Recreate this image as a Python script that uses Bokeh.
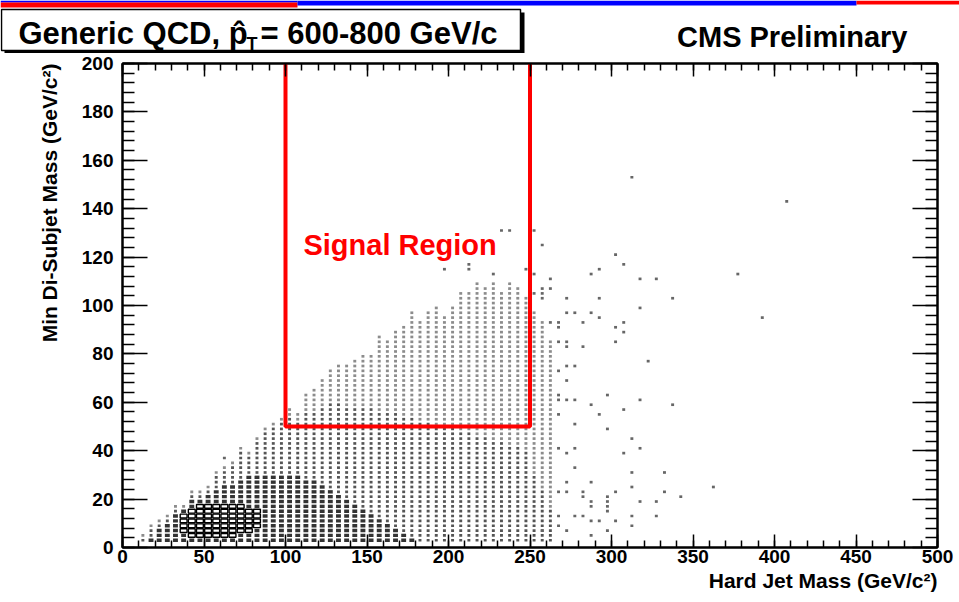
import math
from bokeh.plotting import figure
from bokeh.models import Range1d, LinearAxis, FixedTicker, Title
from bokeh.layouts import column, row
from bokeh.embed import file_html
from bokeh.resources import INLINE
from bokeh.core.properties import value

# ---------------- data ----------------
# 2D histogram: x bins 5 GeV (centres), y bins 2 GeV
col_x = [12.5 + 5 * i for i in range(51)]  # 12.5 ... 262.5 bin centres
# top of occupied cells per column (GeV)
col_top = [6, 10, 12, 14, 18, 18, 24, 24, 26, 32, 34, 36, 42, 40, 46, 50, 52, 54, 58, 56,
           64, 66, 70, 74, 76, 76, 78, 80, 80, 88, 86, 90, 92, 98, 94, 98, 100, 96, 100, 106,
           106, 110, 108, 110, 106, 110, 108, 104, 98, 94, 86]
# top of the densely filled part per column
col_full = [4, 8, 10, 12, 16, 16, 22, 22, 24, 30, 32, 34, 40, 38, 44, 48, 50, 52,
            54, 52, 56, 56, 58, 60, 60, 58, 58, 58, 58, 56, 56, 56, 54, 54, 52, 52, 50, 50,
            50, 48, 48, 46, 46, 44, 44, 42, 42, 40, 30, 24, 16]
# top of the well-populated (larger boxes) part per column
col_mid = [0, 4, 8, 10, 14, 16, 20, 20, 22, 24, 26, 26, 28, 30, 30, 30, 30, 30, 30, 30,
           28, 28, 26, 24, 22, 20, 18, 16, 14, 12, 10, 8, 6, 4,
           0, 0, 0, 0, 0, 0, 0, 0, 0, 0, 0, 0, 0, 0, 0, 0, 0]
# most populated core of the distribution
core_x = [37.5, 42.5, 47.5, 52.5, 57.5, 62.5, 67.5, 72.5, 77.5, 82.5]
core_lo = [7, 5, 5, 5, 5, 5, 5, 7, 7, 9]
core_hi = [13, 15, 17, 17, 17, 17, 17, 17, 15, 15]
# isolated entries
out_x = [62.5, 197.5, 212.5, 212.5, 227.5, 232.5, 237.5, 247.5, 252.5, 252.5, 252.5,
         257.5, 257.5, 257.5, 257.5, 262.5, 262.5, 262.5,
         267.5, 267.5, 267.5, 267.5, 267.5, 267.5, 267.5, 267.5, 267.5, 267.5, 267.5,
         272.5, 272.5, 272.5, 272.5, 272.5, 272.5, 272.5, 272.5, 272.5, 272.5,
         277.5, 277.5, 277.5, 277.5, 277.5, 277.5, 277.5,
         282.5, 282.5, 282.5, 282.5, 282.5,
         287.5, 287.5, 287.5, 287.5, 287.5, 287.5, 287.5,
         292.5, 292.5, 292.5, 292.5, 292.5,
         297.5, 297.5, 297.5, 297.5, 297.5, 297.5,
         302.5, 302.5, 302.5, 302.5, 302.5,
         307.5, 307.5, 307.5, 307.5, 307.5,
         312.5, 312.5, 312.5, 312.5, 312.5, 312.5,
         317.5, 317.5, 317.5, 317.5, 317.5,
         322.5, 327.5, 327.5, 327.5, 332.5, 332.5, 337.5, 337.5, 342.5,
         362.5, 377.5, 392.5, 407.5, 257.5, 272.5, 287.5, 297.5]
out_y = [37, 115, 117, 115, 113, 131, 131, 115, 131, 113, 105,
         125, 107, 105, 103, 111, 107, 93,
         93, 91, 85, 73, 63, 61, 55, 41, 23, 13, 9,
         103, 97, 85, 83, 75, 69, 61, 39, 27, 23,
         97, 75, 61, 51, 41, 33, 13,
         93, 83, 23, 21, 13,
         113, 97, 59, 27, 19, 17, 11,
         115, 103, 95, 55, 11,
         63, 49, 21, 19, 17, 15,
         121, 91, 85, 23, 11,
         117, 93, 89, 57, 39,
         153, 45, 31, 25, 13, 9,
         111, 99, 61, 41, 19,
         77, 111, 19, 13, 31, 23, 103, 59, 21,
         25, 113, 95, 143, 7, 7, 5, 7]

# signal region
sig_x = [100, 250]
sig_y_min = 50
sig_y_max = 200

x_ticks = [0, 50, 100, 150, 200, 250, 300, 350, 400, 450, 500]
y_ticks = [0, 20, 40, 60, 80, 100, 120, 140, 160, 180, 200]

# ---------------- cells ----------------
cells = {"core": ([], []), "mid": ([], []), "fill": ([], []), "sparse": ([], [])}
core_map = {cx: (lo, hi) for cx, lo, hi in zip(core_x, core_lo, core_hi)}
for i, cx in enumerate(col_x):
    y = 3
    while y <= col_top[i]:
        if cx in core_map and core_map[cx][0] <= y <= core_map[cx][1]:
            cat = "core"
        elif y <= col_mid[i]:
            cat = "mid"
        elif y <= col_full[i]:
            cat = "fill"
        else:
            cat = "sparse"
        cells[cat][0].append(cx)
        cells[cat][1].append(y)
        y += 2

FONT = "Liberation Sans"
TOP_H = 53

# ---------------- top banner ----------------
ptop = figure(width=959, height=TOP_H, x_range=Range1d(0, 959), y_range=Range1d(TOP_H, 0),
              output_backend="svg", toolbar_location=None, min_border=0,
              x_axis_type=None, y_axis_type=None, outline_line_color=None)
ptop.grid.visible = False
ptop.quad(left=[0, 0, 297, 856], right=[297, 297, 856, 959], top=[0, 2, 0, 0],
          bottom=[2, 7, 5, 4], fill_color=["#0000ff", "#ff0000", "#0000ff", "#ff0000"],
          line_color=None)
ptop.quad(left=[4], right=[524], top=[12], bottom=[53], fill_color="black", line_color=None)
ptop.quad(left=[1], right=[520], top=[9], bottom=[50], fill_color="white",
          line_color="black", line_width=1.5)
ptop.text(x=[18], y=[33], text=["Generic QCD, p\u0302"], text_font=value(FONT),
          text_font_style="bold", text_font_size="31px", text_color="black",
          text_baseline="alphabetic")
ptop.text(x=[246], y=[43], text=["T"], text_font=value(FONT), text_font_style="bold",
          text_font_size="18px", text_color="black", text_baseline="alphabetic")
ptop.text(x=[260], y=[33], text=[" = 600-800 GeV/c"], text_font=value(FONT),
          text_font_style="bold", text_font_size="31px", text_color="black",
          text_baseline="alphabetic")
ptop.text(x=[907], y=[36], text=["CMS Preliminary"], text_font=value(FONT),
          text_font_style="bold", text_font_size="29px", text_color="black",
          text_baseline="alphabetic", text_align="right")

# ---------------- main plot ----------------
p = figure(width=959, height=602 - TOP_H, x_range=Range1d(0, 500), y_range=Range1d(0, 200),
           output_backend="svg", toolbar_location=None,
           min_border_left=122, min_border_right=22, min_border_top=63 - TOP_H,
           min_border_bottom=55,
           background_fill_color="white", border_fill_color="white")
p.grid.visible = False
p.outline_line_color = "black"
p.outline_line_width = 2

xt = FixedTicker(ticks=x_ticks, minor_ticks=list(range(0, 501, 10)))
yt = FixedTicker(ticks=y_ticks, minor_ticks=list(range(0, 201, 4)))


def style(ax, ticker, tin, mtin, labels):
    ax.ticker = ticker
    ax.major_tick_in = tin
    ax.major_tick_out = 0
    ax.minor_tick_in = mtin
    ax.minor_tick_out = 0
    ax.axis_line_color = "black"
    ax.axis_line_width = 2
    ax.major_tick_line_color = "black"
    ax.major_tick_line_width = 1.5
    ax.minor_tick_line_color = "black"
    ax.minor_tick_line_width = 1.5
    if labels:
        ax.major_label_text_font = FONT
        ax.major_label_text_font_style = "bold"
        ax.major_label_text_font_size = "19px"
        ax.major_label_text_color = "black"
    else:
        ax.major_label_text_font_size = "0px"
        ax.major_label_standoff = 0


style(p.xaxis[0], xt, 13, 7, True)
p.xaxis[0].major_label_standoff = 2
style(p.yaxis[0], yt, 25, 12, True)
p.yaxis[0].major_label_standoff = 9

ax_top = LinearAxis()
style(ax_top, xt, 13, 7, False)
p.add_layout(ax_top, "above")
ax_right = LinearAxis()
style(ax_right, yt, 25, 12, False)
p.add_layout(ax_right, "right")

# axis titles (right / top aligned, as in the reference)
p.add_layout(Title(text="Hard Jet Mass (GeV/c\u00b2)", align="right", text_font=FONT,
                   text_font_style="bold", text_font_size="21px", text_color="black",
                   standoff=2, offset=0), "below")
p.add_layout(Title(text="Min Di-Subjet Mass (GeV/c\u00b2)", align="right", text_font=FONT,
                   text_font_style="bold", text_font_size="21px", text_color="black",
                   standoff=36, offset=0), "left")

# histogram boxes
p.rect(x=cells["sparse"][0], y=cells["sparse"][1], width=1.8, height=1.1,
       fill_color="#8c8c8c", line_color=None)
p.rect(x=cells["fill"][0], y=cells["fill"][1], width=1.8, height=1.1,
       fill_color="#555555", line_color=None)
p.rect(x=cells["mid"][0], y=cells["mid"][1], width=3.0, height=1.4,
       fill_color="#333333", line_color=None)
p.rect(x=cells["core"][0], y=cells["core"][1], width=4.2, height=1.55,
       fill_color=None, line_color="black", line_width=1.4)
p.rect(x=out_x, y=out_y, width=1.8, height=1.1, fill_color="#666666", line_color=None)

# signal region
p.line(x=[sig_x[0], sig_x[0], sig_x[1], sig_x[1]],
       y=[sig_y_max, sig_y_min, sig_y_min, sig_y_max],
       line_color="#ff0000", line_width=4)
p.text(x=[111], y=[125], text=["Signal Region"], text_font=value(FONT),
       text_font_style="bold", text_font_size="29px", text_color="#ff0000",
       text_baseline="middle")

layout = column(row(ptop), p, spacing=0)
open("out.html", "w").write(file_html(layout, INLINE))
